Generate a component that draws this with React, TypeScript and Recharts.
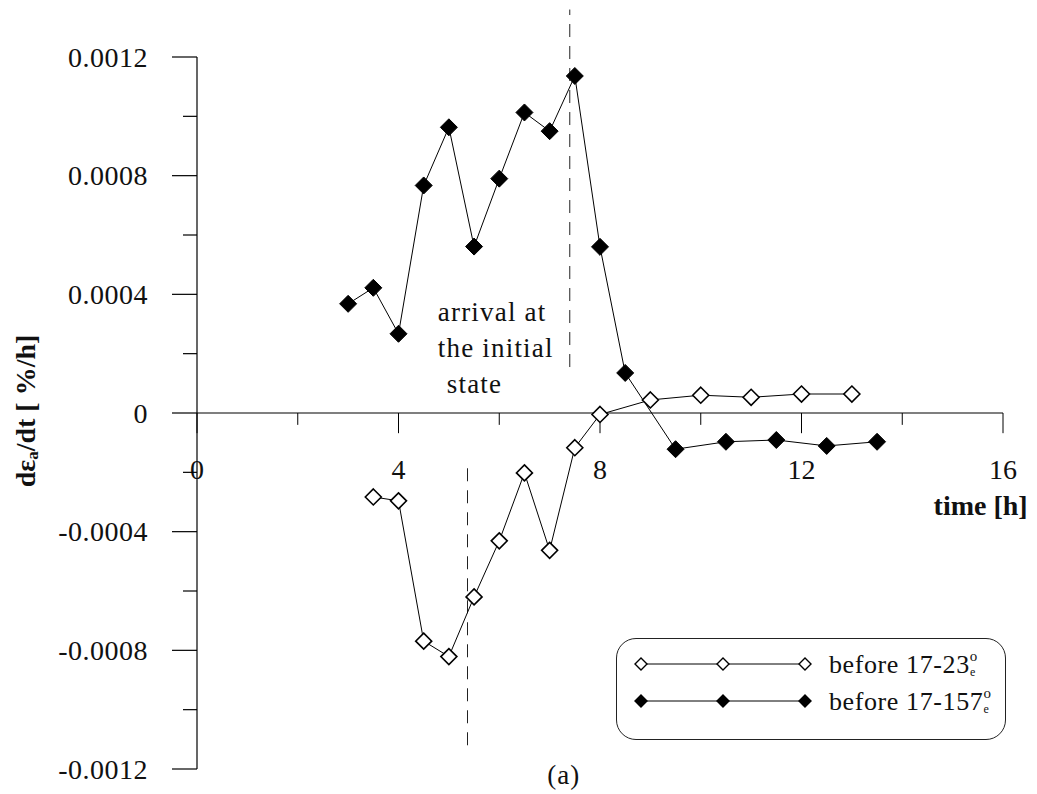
import React from 'react';
import {
  LineChart,
  Line,
  XAxis,
  YAxis,
  ReferenceLine,
  ReferenceDot,
  Legend,
} from 'recharts';

// strain rate after unloading
const openTimes = [3.5, 4, 4.5, 5, 5.5, 6, 6.5, 7, 7.5, 8, 9, 10, 11, 12, 13];
const openRates = [
  -0.000283, -0.000296, -0.000769, -0.000821, -0.00062, -0.000431, -0.000202, -0.000463,
  -0.000117, -0.000005, 0.000044, 0.00006, 0.000053, 0.000064, 0.000064,
];
const filledTimes = [3, 3.5, 4, 4.5, 5, 5.5, 6, 6.5, 7, 7.5, 8, 8.5, 9.5, 10.5, 11.5, 12.5, 13.5];
const filledRates = [
  0.000368, 0.000422, 0.000267, 0.000767, 0.000963, 0.000561, 0.00079, 0.001013, 0.00095,
  0.001136, 0.00056, 0.000135, -0.000122, -0.000097, -0.000091, -0.000111, -0.000097,
];

const xMajorTicks = [0, 4, 8, 12, 16];
const xMinorTicks = [2, 6, 10, 14];
const yTicks = [
  -0.0012, -0.001, -0.0008, -0.0006, -0.0004, -0.0002, 0, 0.0002, 0.0004, 0.0006, 0.0008, 0.001,
  0.0012,
];
const yMajorTicks = [-0.0012, -0.0008, -0.0004, 0, 0.0004, 0.0008, 0.0012];

// dashed markers: time, bottom, top
const dashTimes = [7.4, 5.37];
const dashBottoms = [0.000155, -0.00112];
const dashTops = [0.00136, -0.00018];

const FONT = '"Liberation Serif", "DejaVu Serif", serif';
const MAJOR_LEN = 0.000068;
const MINOR_LEN = 0.00004;
const X_LABEL_DROP = -0.00019;

const openData = openTimes.map((t, i) => ({ t, v: openRates[i] }));
const filledData = filledTimes.map((t, i) => ({ t, v: filledRates[i] }));

function diamond(cx: number, cy: number, s: number) {
  return `M${cx},${cy - s} L${cx + s},${cy} L${cx},${cy + s} L${cx - s},${cy} Z`;
}

const OpenDot = (props: any) => {
  const { cx, cy, index } = props;
  if (cx == null || cy == null) return null;
  return <path key={`o${index}`} d={diamond(cx, cy, 8)} fill="#fff" stroke="#000" strokeWidth={1.6} />;
};

const FilledDot = (props: any) => {
  const { cx, cy, index } = props;
  if (cx == null || cy == null) return null;
  return <path key={`f${index}`} d={diamond(cx, cy, 8.5)} fill="#000" stroke="#000" strokeWidth={1} />;
};

const YTick = (props: any) => {
  const { x, y, payload } = props;
  const v = payload.value;
  const major = yMajorTicks.some((m) => Math.abs(m - v) < 1e-9);
  return (
    <g>
      <line x1={x - (major ? 25 : 14)} x2={x} y1={y} y2={y} stroke="#000" strokeWidth={1.2} />
      {major && (
        <text
          x={x - 49}
          y={y}
          textAnchor="end"
          dominantBaseline="central"
          fontFamily={FONT}
          fontSize={28}
          letterSpacing={0.5}
          fill="#111"
        >
          {Math.abs(v) < 1e-9 ? '0' : v.toFixed(4)}
        </text>
      )}
    </g>
  );
};

const YTitle = (props: any) => {
  const { viewBox } = props;
  const cx = viewBox.x + 25;
  const cy = viewBox.y + viewBox.height / 2 - 2;
  return (
    <text
      x={cx}
      y={cy}
      transform={`rotate(-90 ${cx} ${cy})`}
      textAnchor="middle"
      dominantBaseline="central"
      fontFamily={FONT}
      fontWeight="bold"
      fontSize={28}
      fill="#111"
    >
      dε
      <tspan fontSize={17} dy={7}>
        a
      </tspan>
      <tspan dy={-7}>/dt [ %/h]</tspan>
    </text>
  );
};

const note =
  (lines: string[], opts: { anchor?: string; size?: number; bold?: boolean; spacing?: number; indent?: number[] }) =>
  (props: any) => {
    const { viewBox } = props;
    const size = opts.size ?? 27;
    return (
      <text
        x={viewBox.x}
        y={viewBox.y}
        textAnchor={opts.anchor ?? 'start'}
        dominantBaseline="central"
        fontFamily={FONT}
        fontSize={size}
        fontWeight={opts.bold ? 'bold' : 'normal'}
        letterSpacing={opts.spacing ?? 0}
        fill="#111"
      >
        {lines.map((l, i) => (
          <tspan key={i} x={viewBox.x + (opts.indent?.[i] ?? 0)} dy={i === 0 ? 0 : size * 1.33}>
            {l}
          </tspan>
        ))}
      </text>
    );
  };

const legendItems = [
  { label: '17-23', filled: false },
  { label: '17-157', filled: true },
];

const LegendBox = () => (
  <div
    style={{
      width: 390,
      height: 102,
      border: '1.5px solid #222',
      borderRadius: 20,
      boxSizing: 'border-box',
      background: '#fff',
    }}
  >
    <svg width={390} height={100}>
      {legendItems.map((it, i) => {
        const y = 25 + i * 37;
        return (
          <g key={it.label}>
            <line x1={24} x2={188} y1={y} y2={y} stroke="#000" strokeWidth={1} />
            {[24, 106, 188].map((mx) => (
              <path
                key={mx}
                d={diamond(mx, y, 6)}
                fill={it.filled ? '#000' : '#fff'}
                stroke="#000"
                strokeWidth={1.4}
              />
            ))}
            <text x={212} y={y} dominantBaseline="central" fontFamily={FONT} fontSize={26} letterSpacing={0.6} fill="#111">
              before {it.label}
              <tspan fontSize={15} dy={-8}>
                o
              </tspan>
              <tspan fontSize={12} dx={-8} dy={16}>
                e
              </tspan>
            </text>
          </g>
        );
      })}
    </svg>
  </div>
);

export default function App() {
  return (
    <div style={{ position: 'absolute', left: 0, top: 0, background: '#fff' }}>
      <LineChart width={1037} height={794} margin={{ top: 57, right: 34, bottom: 25, left: 0 }}>
        <XAxis dataKey="t" type="number" domain={[0, 16]} hide allowDataOverflow />
        <YAxis
          type="number"
          domain={[-0.0012, 0.0012]}
          ticks={yTicks}
          interval={0}
          width={197}
          tickSize={0}
          tickMargin={0}
          tickLine={false}
          tick={<YTick />}
          axisLine={{ stroke: '#000', strokeWidth: 1.2 }}
          allowDataOverflow
          label={{ content: <YTitle /> } as any}
        />
        <ReferenceLine y={0} stroke="#000" strokeWidth={1.2} />
        {xMajorTicks.map((t) => (
          <ReferenceLine
            key={`M${t}`}
            segment={[
              { x: t, y: 0 },
              { x: t, y: -MAJOR_LEN },
            ]}
            stroke="#000"
            strokeWidth={1}
            ifOverflow="visible"
          />
        ))}
        {xMinorTicks.map((t) => (
          <ReferenceLine
            key={`m${t}`}
            segment={[
              { x: t, y: 0 },
              { x: t, y: -MINOR_LEN },
            ]}
            stroke="#000"
            strokeWidth={1}
            ifOverflow="visible"
          />
        ))}
        {xMajorTicks.map((t) => (
          <ReferenceDot
            key={`L${t}`}
            x={t}
            y={X_LABEL_DROP}
            r={0}
            fill="none"
            stroke="none"
            ifOverflow="visible"
            label={{ content: note([String(t)], { anchor: 'middle', size: 28 }) } as any}
          />
        ))}
        {dashTimes.map((t, i) => (
          <ReferenceLine
            key={`d${i}`}
            segment={[
              { x: t, y: dashBottoms[i] },
              { x: t, y: dashTops[i] },
            ]}
            stroke="#222"
            strokeWidth={1}
            strokeDasharray="13 9"
            ifOverflow="visible"
          />
        ))}
        <ReferenceDot
          x={4.78}
          y={0.00034}
          r={0}
          fill="none"
          stroke="none"
          ifOverflow="visible"
          label={{ content: note(['arrival at', 'the initial', 'state'], { spacing: 1.2, indent: [0, 0, 9] }) } as any}
        />
        <ReferenceDot
          x={16.49}
          y={-0.00031}
          r={0}
          fill="none"
          stroke="none"
          ifOverflow="visible"
          label={{ content: note(['time [h]'], { anchor: 'end', bold: true, size: 28 }) } as any}
        />
        <ReferenceDot
          x={7.28}
          y={-0.00122}
          r={0}
          fill="none"
          stroke="none"
          ifOverflow="visible"
          label={{ content: note(['(a)'], { anchor: 'middle', size: 27, spacing: 1 }) } as any}
        />
        <Line
          data={openData}
          dataKey="v"
          name="before 17-23"
          stroke="#000"
          strokeWidth={1}
          dot={<OpenDot />}
          activeDot={false}
          isAnimationActive={false}
        />
        <Line
          data={filledData}
          dataKey="v"
          name="before 17-157"
          stroke="#000"
          strokeWidth={1}
          dot={<FilledDot />}
          activeDot={false}
          isAnimationActive={false}
        />
        <Legend
          layout="horizontal"
          verticalAlign="middle"
          align="center"
          content={<LegendBox />}
          wrapperStyle={{ left: 616, top: 638, width: 392, height: 104 }}
        />
      </LineChart>
    </div>
  );
}
